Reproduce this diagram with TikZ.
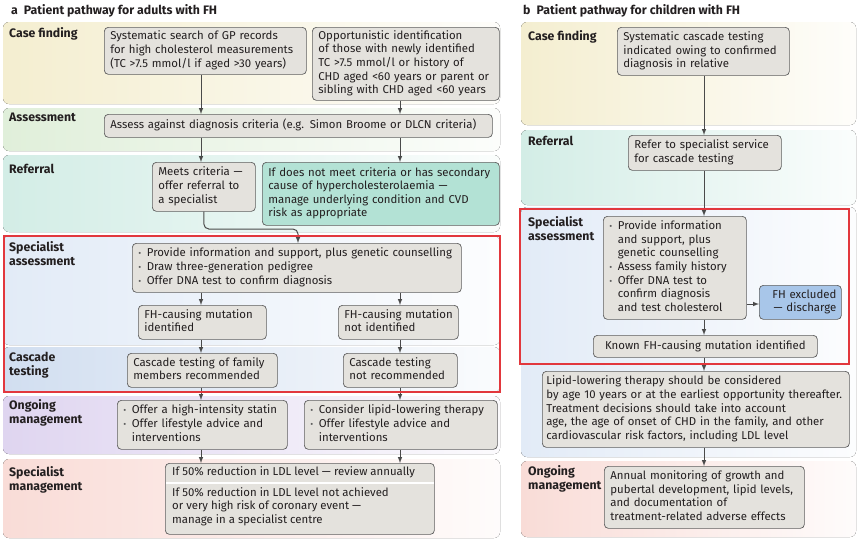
\documentclass[tikz,border=0pt]{standalone}
\usepackage{fontspec}
\setmainfont{Fira Sans}
\usepackage{tikz}
\usepackage{xcolor}

\definecolor{ink}{HTML}{231F20}
\definecolor{boxfill}{HTML}{E4E2DD}
\definecolor{boxline}{HTML}{5E5E5E}
\definecolor{arrowc}{HTML}{4A4A4A}
\definecolor{tealfill}{HTML}{B3E2D5}
\definecolor{bluefill}{HTML}{A8C6E9}
\definecolor{redc}{HTML}{E2373D}
\definecolor{cfband}{HTML}{F4EED0}
\definecolor{asband}{HTML}{E0EFDA}
\definecolor{rfband}{HTML}{D3EDE6}
\definecolor{saband}{HTML}{E2EBF7}
\definecolor{ctband}{HTML}{D1DEF0}
\definecolor{omband}{HTML}{DFD5F0}
\definecolor{smband}{HTML}{F9DCD7}

\newcommand{\bul}{\makebox[8.5pt][l]{\textcolor{boxline}{\small\textbullet}}}
\newcommand{\ind}{\hspace*{8.5pt}}
\newcommand{\rows}[1]{\begin{tabular}{@{}l@{}}#1\end{tabular}}

\begin{document}
\begin{tikzpicture}[x=1pt,y=-1pt,
  band/.style={rounded corners=6pt},
  box/.style={draw=boxline,fill=boxfill,rounded corners=4pt,line width=0.7pt,
    anchor=north west,align=left,inner xsep=6pt,inner ysep=2pt,text=ink,
    font=\fontsize{11.4}{13.6}\selectfont},
  txt/.style={anchor=north west,align=left,inner sep=0pt,text=ink,
    font=\fontsize{11.4}{13.6}\selectfont},
  lab/.style={anchor=north west,align=left,inner sep=0pt,text=ink,
    font=\fontsize{12.3}{14}\selectfont\bfseries},
  arr/.style={-latex,draw=arrowc,line width=1pt},
  hilite/.style={draw=redc,line width=2.4pt}]

\useasboundingbox (0,0) rectangle (858,542);

% bands, adults
\fill[band,left color=cfband,right color=cfband!10] (3,22) rectangle (500,104);
\fill[band,left color=asband,right color=asband!10] (3,108) rectangle (500,151);
\fill[band,left color=rfband,right color=rfband!10] (3,155) rectangle (500,232);
\fill[band,left color=saband,right color=saband!10] (3,236) rectangle (500,345);
\fill[band,left color=ctband,right color=ctband!10] (3,347) rectangle (500,392);
\fill[band,left color=omband,right color=omband!10] (3,396) rectangle (500,454);
\fill[band,left color=smband,right color=smband!10] (3,459) rectangle (500,538);

% bands, children
\fill[band,left color=cfband,right color=cfband!10] (521,22) rectangle (856,125);
\fill[band,left color=rfband,right color=rfband!10] (521,130) rectangle (856,205);
\fill[band,left color=saband,right color=saband!10] (521,207) rectangle (856,457);
\fill[band,left color=smband,right color=smband!10] (521,461) rectangle (856,537);

% titles
\node[lab] (ttlA) at (11,4) {a\hspace{6pt}Patient pathway for adults with FH};
\node[lab] (ttlB) at (523,4) {b\hspace{6pt}Patient pathway for children with FH};

% row labels
\node[lab] (labA1) at (9,27) {Case finding};
\node[lab] (labA2) at (9,113) {Assessment};
\node[lab] (labA3) at (9,164) {Referral};
\node[lab] (labA4) at (9,241) {Specialist\\assessment};
\node[lab] (labA5) at (9,352) {Cascade\\testing};
\node[lab] (labA6) at (9,399) {Ongoing\\management};
\node[lab] (labA7) at (9,466) {Specialist\\management};
\node[lab] (labB1) at (528,30) {Case finding};
\node[lab] (labB2) at (528,136) {Referral};
\node[lab] (labB3) at (528,216) {Specialist\\assessment};
\node[lab] (labB4) at (528,465) {Ongoing\\management};

\coordinate (colA) at (201,0);
\coordinate (colB) at (400,0);
\coordinate (colC) at (704,0);

% adults
\node[box,text width=190,minimum height=47] (cf1) at (104,27)
  {\rows{Systematic search of GP records\\for high cholesterol measurements\\(TC >7.5 mmol/l if aged >30 years)}};
\node[box,text width=175,minimum height=73] (cf2) at (312,27)
  {\rows{Opportunistic identification\\of those with newly identified\\TC >7.5 mmol/l or history of\\CHD aged <60 years or parent or\\sibling with CHD aged <60 years}};
\node[box,text width=376,minimum height=23] (as1) at (104,114)
  {\rows{Assess against diagnosis criteria (e.g. Simon Broome or DLCN criteria)}};
\node[box,text width=91,minimum height=49] (rf1) at (152,162)
  {\rows{Meets criteria —\\offer referral to\\a specialist}};
\node[box,fill=tealfill,text width=225,minimum height=63] (rf2) at (262,162)
  {\rows{If does not meet criteria or has secondary\\cause of hypercholesterolaemia —\\manage underlying condition and CVD\\risk as appropriate}};
\node[box,text width=317,minimum height=49] (sa1) at (132,243)
  {\rows{\bul Provide information and support, plus genetic counselling\\\bul Draw three-generation pedigree\\\bul Offer DNA test to confirm diagnosis}};
\node[box,text width=116,minimum height=34] (mu1) at (138,305)
  {\rows{FH-causing mutation\\identified}};
\node[box,text width=108,minimum height=34] (mu2) at (338,305)
  {\rows{FH-causing mutation\\not identified}};
\node[box,text width=138,minimum height=34] (ct1) at (127,353)
  {\rows{Cascade testing of family\\members recommended}};
\node[box,text width=102,minimum height=34] (ct2) at (343,353)
  {\rows{Cascade testing\\not recommended}};
\node[box,text width=158,minimum height=49] (om1) at (117,400)
  {\rows{\bul Offer a high-intensity statin\\\bul Offer lifestyle advice and\\\ind interventions}};
\node[box,text width=181,minimum height=49] (om2) at (304,400)
  {\rows{\bul Consider lipid-lowering therapy\\\bul Offer lifestyle advice and\\\ind interventions}};
\node[box,minimum width=269,minimum height=71,inner sep=0pt] (sm) at (165,463) {};
\coordinate (smcut) at (0,483);
\draw[white,line width=1.2pt] (sm.west |- smcut) ++(1,0) -- ([xshift=-1pt]sm.east |- smcut);
\node[txt] (smA) at (172,466) {If 50\% reduction in LDL level — review annually};
\node[txt] (smB) at (172,487)
  {If 50\% reduction in LDL level not achieved\\or very high risk of coronary event —\\manage in a specialist centre};

\draw[arr] (cf1.south -| colA) -- (as1.north -| colA);
\draw[arr] (cf2.south -| colB) -- (as1.north -| colB);
\draw[arr] (as1.south -| colA) -- (rf1.north -| colA);
\draw[arr] (as1.south -| colB) -- (rf2.north -| colB);
\coordinate (joinA) at (298,229);
\draw[arr,rounded corners=5pt] (rf1.south) |- (joinA) -- (sa1.north -| joinA);
\draw[arr] (sa1.south -| colA) -- (mu1.north -| colA);
\draw[arr] (sa1.south -| colB) -- (mu2.north -| colB);
\draw[arr] (mu1.south -| colA) -- (ct1.north -| colA);
\draw[arr] (mu2.south -| colB) -- (ct2.north -| colB);
\draw[arr] (ct1.south -| colA) -- (om1.north -| colA);
\draw[arr] (ct2.south -| colB) -- (om2.north -| colB);
\draw[arr] (om1.south -| colA) -- (sm.north -| colA);
\draw[arr] (om2.south -| colB) -- (sm.north -| colB);

% children
\node[box,text width=160,minimum height=48] (ccf) at (617,27)
  {\rows{Systematic cascade testing\\indicated owing to confirmed\\diagnosis in relative}};
\node[box,text width=141,minimum height=35] (crf) at (628,135)
  {\rows{Refer to specialist service\\for cascade testing}};
\node[box,text width=131,minimum height=103] (csa) at (603,216)
  {\rows{\bul Provide information\\\ind and support, plus\\\ind genetic counselling\\\bul Assess family history\\\bul Offer DNA test to\\\ind confirm diagnosis\\\ind and test cholesterol}};
\node[box,fill=bluefill,align=right,text width=72,inner xsep=5pt,minimum height=34] (cfx) at (759,285)
  {\begin{tabular}{@{}r@{}}FH excluded\\— discharge\end{tabular}};
\node[box,align=center,text width=212,minimum height=22] (ckn) at (593,335)
  {Known FH-causing mutation identified};
\node[box,inner xsep=4pt,text width=299,minimum height=76] (clt) at (542,371)
  {\rows{Lipid-lowering therapy should be considered\\by age 10 years or at the earliest opportunity thereafter.\\Treatment decisions should take into account\\age, the age of onset of CHD in the family, and other\\cardiovascular risk factors, including LDL level}};
\node[box,text width=188,minimum height=62] (com) at (604,466)
  {\rows{Annual monitoring of growth and\\pubertal development, lipid levels,\\and documentation of\\treatment-related adverse effects}};

\draw[arr] (ccf.south -| colC) -- (crf.north -| colC);
\draw[arr] (crf.south -| colC) -- (csa.north -| colC);
\draw[arr] (csa.south -| colC) -- (ckn.north -| colC);
\draw[arr] (ckn.south -| colC) -- (clt.north -| colC);
\draw[arr] (clt.south -| colC) -- (com.north -| colC);
\draw[arr] (csa.east |- 0,304) -- (cfx.west |- 0,304);

% highlighted specialist stage
\draw[hilite] (4,236) rectangle (500,392);
\draw[hilite] (520,209) rectangle (849,364);
\end{tikzpicture}
\end{document}
